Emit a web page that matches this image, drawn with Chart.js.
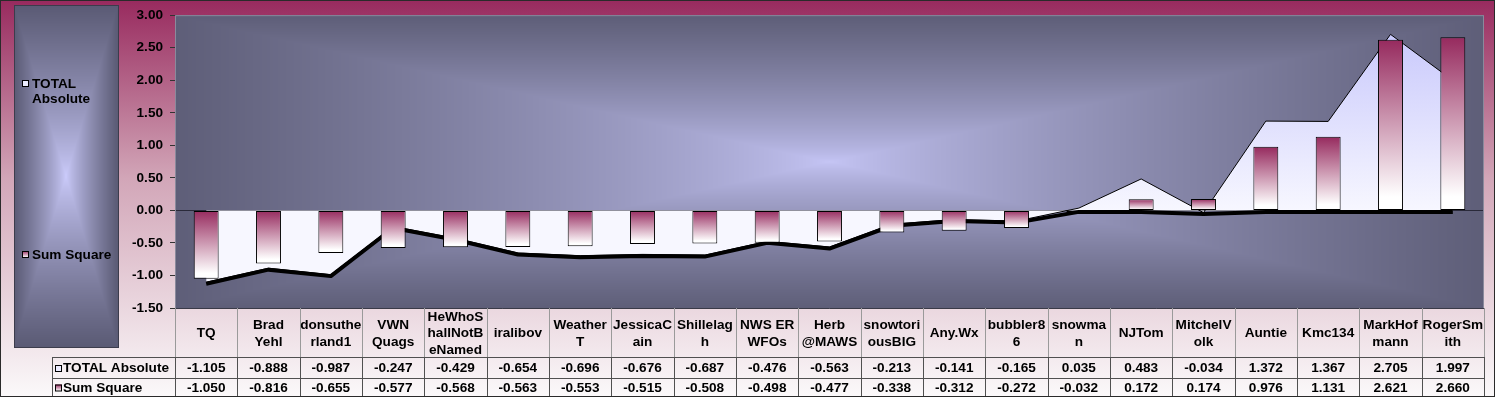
<!DOCTYPE html>
<html lang="en">
<head>
<meta charset="UTF-8">
<title>TOTAL Absolute vs Sum Square</title>
<script src="https://cdn.jsdelivr.net/npm/chart.js"></script>
<style>
  body { margin: 0; background: #fff; }
  #wrap { width: 1495px; height: 397px; }
</style>
</head>
<body>
<div id="wrap"><canvas id="chart" width="1495" height="397"></canvas></div>
<script>
  // header labels, wrapped the way the data table shows them
  const names = [
    ['TQ'], ['Brad', 'Yehl'], ['donsuthe', 'rland1'], ['VWN', 'Quags'],
    ['HeWhoS', 'hallNotB', 'eNamed'], ['iralibov'], ['Weather', 'T'],
    ['JessicaC', 'ain'], ['Shillelag', 'h'], ['NWS ER', 'WFOs'], ['Herb', '@MAWS'],
    ['snowtori', 'ousBIG'], ['Any.Wx'], ['bubbler8', '6'], ['snowma', 'n'],
    ['NJTom'], ['MitchelV', 'olk'], ['Auntie'], ['Kmc134'], ['MarkHof', 'mann'],
    ['RogerSm', 'ith']
  ];
  const totalAbsolute = [-1.105, -0.888, -0.987, -0.247, -0.429, -0.654, -0.696, -0.676, -0.687, -0.476,
    -0.563, -0.213, -0.141, -0.165, 0.035, 0.483, -0.034, 1.372, 1.367, 2.705, 1.997];
  const sumSquare = [-1.050, -0.816, -0.655, -0.577, -0.568, -0.563, -0.553, -0.515, -0.508, -0.498,
    -0.477, -0.338, -0.312, -0.272, -0.032, 0.172, 0.174, 0.976, 1.131, 2.621, 2.660];
  const seriesNames = ['TOTAL Absolute', 'Sum Square'];
  const yMin = -1.5, yMax = 3, yStep = 0.5;

  const FAMILY = '"Liberation Sans", Arial, sans-serif';
  const FSIZE = 13.6;
  const FONT = 'bold ' + FSIZE + 'px ' + FAMILY;

  // Excel style "from center" rectangular gradient, built pixel by pixel
  function rectGradient(w, h, edge, center, pow) {
    const c = document.createElement('canvas');
    c.width = w; c.height = h;
    const g = c.getContext('2d');
    const img = g.createImageData(w, h);
    const hw = w / 2, hh = h / 2;
    for (let y = 0; y < h; y++) {
      for (let x = 0; x < w; x++) {
        let t = Math.max(Math.abs(x + 0.5 - hw) / hw, Math.abs(y + 0.5 - hh) / hh);
        t = Math.pow(t, pow);
        const i = (y * w + x) * 4;
        for (let k = 0; k < 3; k++) img.data[i + k] = center[k] + (edge[k] - center[k]) * t;
        img.data[i + 3] = 255;
      }
    }
    g.putImageData(img, 0, 0);
    return c;
  }

  const LEG = { x: 14, y: 5, w: 104, h: 342 };
  let legendImg = null, plotImg = null;

  function barGradient(ctx, top, bottom) {
    const g = ctx.createLinearGradient(0, top, 0, bottom);
    g.addColorStop(0, '#962a5e');
    g.addColorStop(0.92, '#ffffff');
    g.addColorStop(1, '#ffffff');
    return g;
  }

  const backdrop = {
    id: 'backdrop',
    beforeDraw(chart) {
      const { ctx, chartArea: a, width, height } = chart;
      ctx.save();
      const bg = ctx.createLinearGradient(0, 0, 0, height);
      bg.addColorStop(0, '#982a5e');
      bg.addColorStop(0.45, '#d2a6b8');
      bg.addColorStop(1, '#fbf9fa');
      ctx.fillStyle = bg;
      ctx.fillRect(0, 0, width, height);

      if (!legendImg) legendImg = rectGradient(LEG.w, LEG.h, [90, 90, 116], [204, 204, 252], 0.8);
      ctx.drawImage(legendImg, LEG.x, LEG.y);
      ctx.strokeStyle = '#3c3c4c';
      ctx.lineWidth = 1;
      ctx.strokeRect(LEG.x + 0.5, LEG.y + 0.5, LEG.w, LEG.h);

      const pw = Math.round(a.right - a.left), ph = Math.round(a.bottom - a.top);
      if (!plotImg || plotImg.width !== pw || plotImg.height !== ph) {
        plotImg = rectGradient(pw, ph, [94, 94, 120], [198, 198, 246], 0.75);
      }
      ctx.drawImage(plotImg, a.left, a.top);
      ctx.restore();
    },
    beforeDatasetDraw(chart, args) {
      // drop shadow look of the thick lower edge
      if (args.index === 2) { chart.ctx.save(); chart.ctx.translate(0, 1.5); }
    },
    afterDatasetDraw(chart, args) {
      if (args.index === 2) chart.ctx.restore();
    },
    afterDraw(chart) {
      const { ctx, chartArea: a, width, height } = chart;
      const xs = chart.scales.x;
      const n = names.length;
      const colW = (a.right - a.left) / n;
      const hdrB = 357, r1B = 378, r2B = 396, labL = 52;
      ctx.save();

      // plot frame
      ctx.strokeStyle = '#8a8a9c';
      ctx.lineWidth = 1;
      ctx.strokeRect(a.left + 0.5, a.top + 0.5, a.right - a.left - 1, a.bottom - a.top);
      ctx.strokeStyle = '#3a3a48';
      ctx.beginPath();
      ctx.moveTo(a.left, a.bottom + 0.5); ctx.lineTo(a.right, a.bottom + 0.5);
      ctx.stroke();

      // data table grid
      ctx.strokeStyle = '#9a9a9a';
      ctx.beginPath();
      for (let i = 0; i <= n; i++) {
        const x = Math.round(a.left + i * colW) + 0.5;
        ctx.moveTo(x, a.bottom); ctx.lineTo(x, hdrB);
      }
      ctx.stroke();
      ctx.strokeStyle = '#505050';
      ctx.beginPath();
      [hdrB, r1B, r2B].forEach(y => { ctx.moveTo(labL, y + 0.5); ctx.lineTo(a.right, y + 0.5); });
      ctx.moveTo(labL + 0.5, hdrB); ctx.lineTo(labL + 0.5, r2B);
      for (let i = 0; i <= n; i++) {
        const x = Math.round(a.left + i * colW) + 0.5;
        ctx.moveTo(x, hdrB); ctx.lineTo(x, r2B);
      }
      ctx.stroke();

      ctx.font = FONT;
      ctx.fillStyle = '#000';
      ctx.textAlign = 'center';
      ctx.textBaseline = 'middle';
      const hdrMid = (a.bottom + hdrB) / 2 + 1;
      names.forEach((lines, i) => {
        const cx = xs.getPixelForValue(i);
        const lh = 16.5;
        const y0 = hdrMid - (lines.length - 1) * lh / 2;
        lines.forEach((t, j) => ctx.fillText(t, cx, y0 + j * lh));
        ctx.fillText(totalAbsolute[i].toFixed(3), cx, (hdrB + r1B) / 2 + 1);
        ctx.fillText(sumSquare[i].toFixed(3), cx, (r1B + r2B) / 2 + 1);
      });

      // row labels with keys
      ctx.textAlign = 'left';
      const rows = [(hdrB + r1B) / 2 + 1, (r1B + r2B) / 2 + 1];
      rows.forEach((y, k) => {
        drawKey(ctx, k, 55, y - 3.5);
        ctx.fillStyle = '#000';
        ctx.fillText(seriesNames[k], 63, y);
      });

      // legend
      drawKey(ctx, 0, 22, 80);
      ctx.fillStyle = '#000';
      ctx.fillText('TOTAL', 32, 84);
      ctx.fillText('Absolute', 32, 99);
      drawKey(ctx, 1, 22, 251);
      ctx.fillStyle = '#000';
      ctx.fillText('Sum Square', 32, 255);

      // outer frame
      ctx.strokeStyle = '#2a2a2a';
      ctx.strokeRect(0.5, 0.5, width - 1, height - 1);
      ctx.restore();
    }
  };

  function drawKey(ctx, k, x, y) {
    const s = 7;
    if (k === 0) {
      ctx.fillStyle = '#ececff';
    } else {
      ctx.fillStyle = barGradient(ctx, y, y + s);
    }
    ctx.fillRect(x, y, s, s);
    ctx.strokeStyle = '#000';
    ctx.lineWidth = 1;
    ctx.strokeRect(x + 0.5, y + 0.5, s - 1, s - 1);
  }

  const ctx = document.getElementById('chart').getContext('2d');
  const chart = new Chart(ctx, {
    type: 'bar',
    data: {
      labels: names.map(l => l.join('')),
      datasets: [
        {
          type: 'bar',
          label: seriesNames[1],
          data: sumSquare,
          order: 0,
          borderColor: '#000',
          borderWidth: 1,
          borderSkipped: false,
          barPercentage: 0.4,
          categoryPercentage: 1,
          backgroundColor: c => {
            const { chart } = c;
            if (!chart.chartArea || c.raw === undefined) return '#c07d9e';
            const y = chart.scales.y;
            const p = y.getPixelForValue(c.raw), z = y.getPixelForValue(0);
            return barGradient(chart.ctx, Math.min(p, z), Math.max(p, z) + 0.01);
          }
        },
        {
          type: 'line',
          label: seriesNames[0],
          data: totalAbsolute,
          order: 2,
          fill: 'origin',
          tension: 0,
          pointRadius: 0,
          borderColor: '#000',
          borderWidth: 1,
          backgroundColor: c => {
            const { chart } = c;
            if (!chart.chartArea) return '#eeeeff';
            const y = chart.scales.y;
            const g = chart.ctx.createLinearGradient(0, y.getPixelForValue(Math.max(...totalAbsolute)), 0, y.getPixelForValue(0));
            g.addColorStop(0, '#c9c9fc');
            g.addColorStop(1, '#f7f7ff');
            return g;
          }
        },
        {
          type: 'line',
          label: 'edge',
          data: totalAbsolute.map(v => Math.min(v, 0)),
          order: 1,
          fill: false,
          tension: 0,
          pointRadius: 0,
          borderColor: '#000',
          borderWidth: 4,
          borderJoinStyle: 'round'
        }
      ]
    },
    options: {
      responsive: false,
      animation: false,
      events: [],
      layout: { padding: { left: 100, right: 11, top: 7, bottom: 89 } },
      plugins: {
        legend: { display: false },
        tooltip: { enabled: false }
      },
      scales: {
        x: { display: false, offset: true },
        y: {
          min: yMin,
          max: yMax,
          z: 1,
          afterFit: s => { s.width = 75; },
          ticks: {
            stepSize: yStep,
            padding: 7,
            color: '#000',
            font: { family: FAMILY, size: FSIZE, weight: 'bold' },
            callback: v => Number(v).toFixed(2)
          },
          grid: {
            color: c => (c.tick && c.tick.value === 0) ? '#2a2a3a' : 'rgba(0,0,0,0)',
            tickColor: '#333',
            tickLength: 5,
            lineWidth: 1
          },
          border: { color: '#333', width: 1 }
        }
      }
    },
    plugins: [backdrop]
  });
</script>
</body>
</html>
